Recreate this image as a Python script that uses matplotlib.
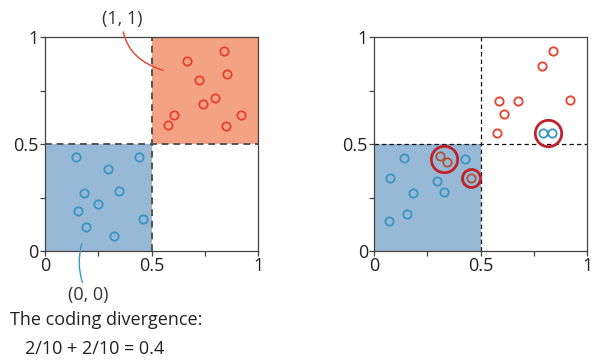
import matplotlib
matplotlib.use("Agg")
import matplotlib.pyplot as plt
import numpy as np

plt.rcParams["font.family"] = ["Open Sans", "DejaVu Sans"]

# left panel: the two samples
left_red_x = [0.664, 0.841, 0.855, 0.723, 0.797, 0.741, 0.605, 0.578, 0.850, 0.922]
left_red_y = [0.889, 0.936, 0.828, 0.797, 0.714, 0.688, 0.636, 0.589, 0.586, 0.636]
left_blue_x = [0.145, 0.439, 0.295, 0.183, 0.348, 0.250, 0.153, 0.459, 0.192, 0.323]
left_blue_y = [0.438, 0.438, 0.381, 0.272, 0.281, 0.222, 0.188, 0.150, 0.111, 0.069]

# right panel
right_red_x = [0.839, 0.786, 0.584, 0.677, 0.919, 0.608, 0.577]
right_red_y = [0.934, 0.866, 0.703, 0.703, 0.708, 0.639, 0.553]
right_redin_x = [0.311, 0.342, 0.456]     # red points that fall in the blue cell
right_redin_y = [0.444, 0.417, 0.339]
right_blue_x = [0.142, 0.075, 0.180, 0.153, 0.070, 0.297, 0.327, 0.425, 0.791, 0.836]
right_blue_y = [0.436, 0.339, 0.272, 0.175, 0.142, 0.327, 0.278, 0.428, 0.550, 0.550]
highlight_x = [0.327, 0.456, 0.814]
highlight_y = [0.430, 0.339, 0.552]
highlight_ms = [19, 13, 19]

ticks = [0, 0.5, 1]
tick_labels = ["0", "0.5", "1"]
minor_ticks = [0.25, 0.75]

RED = "#e8402a"
BLUE = "#3a96c4"
ORANGE_FILL = "#f4a284"
BLUE_FILL = "#97b9d6"
DARKRED = "#c0222a"
BROWN = "#b5513a"
TXT = "#333333"
FS = 13

fig = plt.figure(figsize=(5.92, 3.63), dpi=100)
ax1 = fig.add_axes([0.076, 0.3085, 0.360, 0.5895])
ax2 = fig.add_axes([0.632, 0.3085, 0.360, 0.5895])

for ax in (ax1, ax2):
    ax.set_xlim(0, 1)
    ax.set_ylim(0, 1)
    ax.set_xticks(ticks)
    ax.set_xticklabels(tick_labels)
    ax.set_yticks(ticks)
    ax.set_yticklabels(tick_labels)
    ax.set_xticks(minor_ticks, minor=True)
    ax.set_yticks(minor_ticks, minor=True)
    ax.tick_params(which="both", direction="out", length=3.5, width=0.9,
                   color="#444444", labelsize=FS, labelcolor="#222222", pad=1)
    for s in ax.spines.values():
        s.set_color("#444444")
        s.set_linewidth(0.9)

# left panel
ax1.fill_between([0.5, 1], 0.5, 1, color=ORANGE_FILL, lw=0, zorder=0)
ax1.fill_between([0, 0.5], 0, 0.5, color=BLUE_FILL, lw=0, zorder=0)
ax1.plot([0.5, 0.5], [0, 1], ls=(0, (3.5, 2.5)), color="#555555", lw=1.4, zorder=1)
ax1.plot([0, 1], [0.5, 0.5], ls=(0, (3.5, 2.5)), color="#555555", lw=1.4, zorder=1)
ax1.plot(left_red_x, left_red_y, "o", mfc="none", mec=RED, ms=6, mew=1.3, zorder=3)
ax1.plot(left_blue_x, left_blue_y, "o", mfc="none", mec=BLUE, ms=6, mew=1.3, zorder=3)

ax1.annotate("(1, 1)", xy=(0.555, 0.844), xytext=(0.361, 1.085),
             textcoords="data", ha="center", va="center", fontsize=FS, color=TXT,
             annotation_clip=False,
             arrowprops=dict(arrowstyle="-", color=RED, lw=1,
                             connectionstyle="angle3,angleA=90,angleB=-17",
                             shrinkA=1, shrinkB=0))
ax1.annotate("(0, 0)", xy=(0.172, 0.034), xytext=(0.202, -0.207),
             textcoords="data", ha="center", va="center", fontsize=FS, color=TXT,
             annotation_clip=False,
             arrowprops=dict(arrowstyle="-", color=BLUE, lw=1,
                             connectionstyle="arc3,rad=-0.2",
                             shrinkA=1, shrinkB=0))

# right panel
ax2.fill_between([0, 0.5], 0, 0.5, color=BLUE_FILL, lw=0, zorder=0)
ax2.plot([0.5, 0.5], [0, 1], ls=(0, (3.5, 2.5)), color="#111111", lw=0.9, zorder=1)
ax2.plot([0, 1], [0.5, 0.5], ls=(0, (3.5, 2.5)), color="#111111", lw=0.9, zorder=1)
ax2.plot(right_red_x, right_red_y, "o", mfc="none", mec=RED, ms=6, mew=1.3, zorder=3)
ax2.plot(right_redin_x, right_redin_y, "o", mfc="none", mec=BROWN, ms=6, mew=1.3, zorder=3)
ax2.plot(right_blue_x, right_blue_y, "o", mfc="none", mec=BLUE, ms=6, mew=1.3, zorder=3)
for hx, hy, hm in zip(highlight_x, highlight_y, highlight_ms):
    ax2.plot(hx, hy, "o", mfc="none", mec=DARKRED, ms=hm, mew=2, zorder=4)

fig.text(10 / 592, 1 - 320 / 363, "The coding divergence:", fontsize=FS,
         color="#222222", va="center", ha="left")
fig.text(25 / 592, 1 - 349 / 363, "2/10 + 2/10 = 0.4", fontsize=FS,
         color="#222222", va="center", ha="left")

fig.savefig("out.png", dpi=100)
